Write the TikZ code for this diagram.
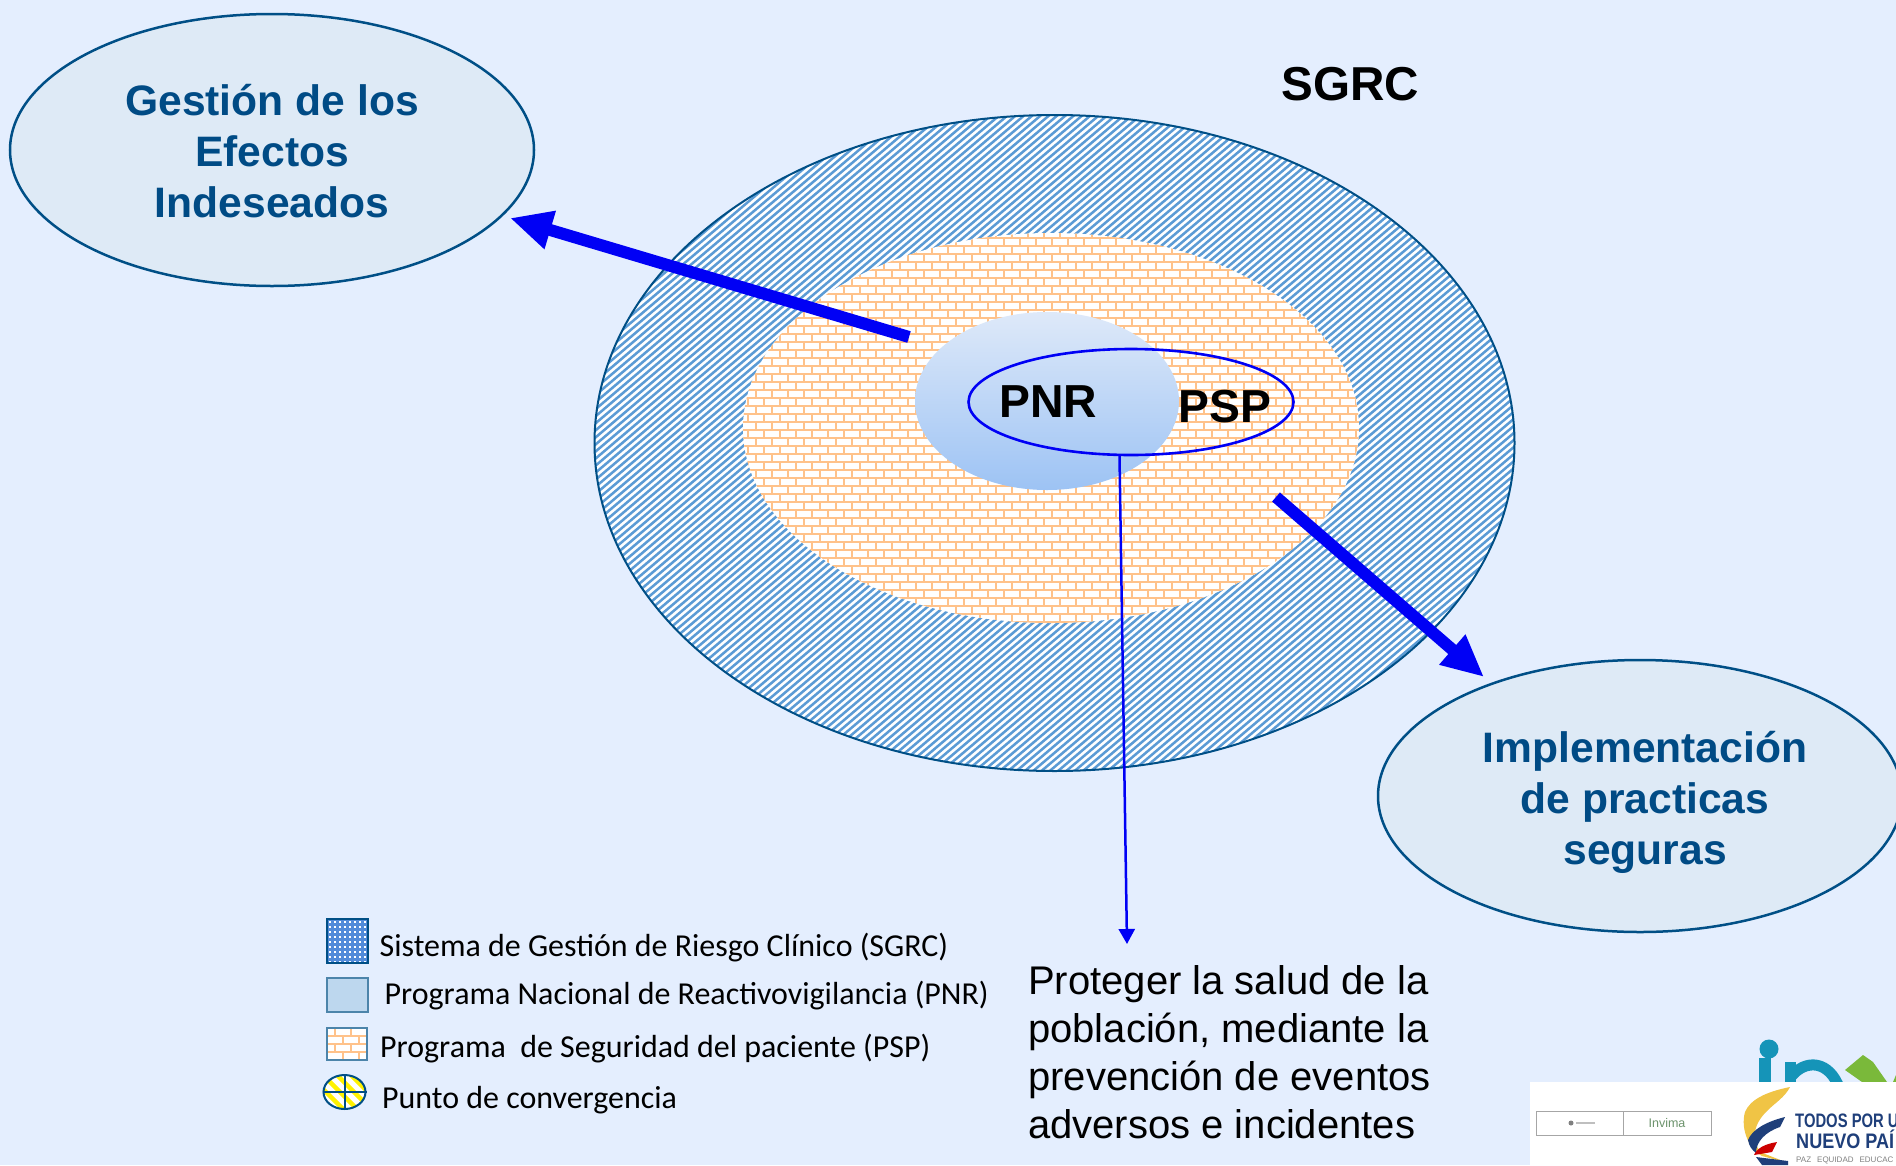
\documentclass[tikz,border=0pt]{standalone}
\usepackage{fontspec}
\usepackage{graphicx}
\setmainfont{Liberation Sans}
\newfontfamily\legendfont{Carlito}
\usetikzlibrary{arrows.meta,shapes.geometric}
\definecolor{bgblue}{HTML}{E4EEFE}
\definecolor{ovalfill}{HTML}{DEEAF6}
\definecolor{ovalline}{HTML}{004F86}
\definecolor{titleblue}{HTML}{004B85}
\definecolor{hatchblue}{HTML}{5B9BD5}
\definecolor{brickorange}{HTML}{FFC28A}
\definecolor{arrowblue}{HTML}{0000F5}
\definecolor{pnrtop}{HTML}{DEE9F9}
\definecolor{pnrbottom}{HTML}{9DC3F4}
\definecolor{logoteal}{HTML}{1594B8}
\definecolor{logogreen}{HTML}{7AB93A}
\definecolor{logogold}{HTML}{F0C445}
\definecolor{logonavy}{HTML}{1F3F7A}
\tikzset{
  oval/.style={draw=ovalline, line width=2.5pt, fill=ovalfill, ellipse, inner sep=0pt,
    minimum width=524pt, minimum height=272pt},
  ovaltext/.style={inner sep=0pt, align=center, text=titleblue,
    font=\fontsize{42.6}{51}\selectfont\bfseries},
  boldlabel/.style={inner sep=0pt, font=\fontsize{46.3}{52}\selectfont\bfseries},
  legendtext/.style={anchor=base west, inner sep=0pt, font=\legendfont\fontsize{31.95}{36}\selectfont},
  swatch/.style={draw=ovalline!70, line width=1.5pt},
  brickline/.style={draw=brickorange, line width=2.4pt},
  bigarrow/.style={draw=arrowblue, line width=12pt, -{Triangle[length=42pt,width=37pt,fill=arrowblue]}},
  thinarrow/.style={draw=arrowblue, line width=2.5pt, -{Triangle[length=15pt,width=16pt,fill=arrowblue]}}
}
% brick pattern: left, top, columns, rows
\newcommand{\brickwall}[4]{%
  \foreach \rownum in {0,...,#4}{
    \pgfmathsetmacro\rowy{#2+8*\rownum}
    \pgfmathsetmacro\rowshift{8*mod(\rownum,2)}
    \draw[brickline] (#1,\rowy) -- (#1+16*#3,\rowy);
    \foreach \colnum in {0,...,#3}{
      \draw[brickline] (#1+\rowshift+16*\colnum,\rowy) -- ++(0,8);
    }
  }
}
\begin{document}
\begin{tikzpicture}[x=1pt,y=-1pt]
  \useasboundingbox (0,0) rectangle (1896,1165);
  \fill[bgblue] (0,0) rectangle (1896,1165);

  % Outer hatched ellipse
  \begin{scope}
    \clip (1054.5,443) ellipse [x radius=460, y radius=328];
    \fill[white] (590,110) rectangle (1520,775);
    \foreach \x in {-200,-191.7,...,1520}{
      \draw[hatchblue, line width=2.5pt] (\x,775) -- (\x+780,112);
    }
  \end{scope}
  \node[draw=ovalline, line width=2pt, ellipse, inner sep=0pt, minimum width=920pt, minimum height=656pt] (sgrc) at (1054.5,443) {};

  % Brick ellipse
  \begin{scope}
    \clip (1051,428) ellipse [x radius=308, y radius=195];
    \fill[white] (740,230) rectangle (1362,626);
    \brickwall{740}{230}{39}{49}
  \end{scope}

  % Inner ellipses
  \node[ellipse, inner sep=0pt, minimum width=264pt, minimum height=178pt, top color=pnrtop, bottom color=pnrbottom] (pnr) at (1047,401) {};
  \node[draw=arrowblue, line width=2.6pt, ellipse, inner sep=0pt, minimum width=325pt, minimum height=106pt] (psp) at (1131,402) {};
  \node[boldlabel] (pnrtext) at (1048,402) {PNR};
  \node[boldlabel] (psptext) at (1225,407) {PSP};
  \node[boldlabel, font=\fontsize{47.6}{52}\selectfont\bfseries] (sgrctext) at (1350,84) {SGRC};

  % Outer ovals
  \node[oval] (efectos) at (272,150) {};
  \node[ovaltext] (efectostext) at (272,151) {Gestión de los\\Efectos\\Indeseados};
  \node[oval] (practicas) at (1640,796) {};
  \node[ovaltext] (practicastext) at (1645,802) {Implementación\\de practicas\\seguras};

  % Arrows
  \coordinate (efectostail) at (909,337);
  \coordinate (efectostip) at (510,218);
  \coordinate (practicastail) at (1276,497);
  \coordinate (practicastip) at (1484,677);
  \coordinate (puntotip) at (1127,944);
  \draw[bigarrow] (efectostail) -- (efectostip);
  \draw[bigarrow] (practicastail) -- (practicastip);
  \draw[thinarrow] (psp.258) -- (puntotip);

  \node[anchor=north west, inner sep=0pt, align=left, font=\fontsize{40}{48}\selectfont] (proteger) at (1028,965)
    {Proteger la salud de la\\población, mediante la\\prevención de eventos\\adversos e incidentes};

  % Legend
  \begin{scope}
    \clip (327,919) rectangle (368,963);
    \fill[hatchblue!90!blue] (327,919) rectangle (368,963);
    \foreach \x in {0,...,8}{
      \foreach \y in {0,...,8}{
        \fill[white] (329+5*\x,921+5*\y) rectangle ++(2,2);
      }
    }
  \end{scope}
  \draw[draw=ovalline, line width=2pt] (327,919) rectangle (368,963) node[pos=.5] (swatchsgrc) {};
  \draw[swatch, fill=hatchblue!40] (327,978) rectangle (368,1012) node[pos=.5] (swatchpnr) {};
  \begin{scope}
    \clip (327,1028) rectangle (367,1060);
    \fill[white] (327,1028) rectangle (367,1060);
    \brickwall{319}{1028}{4}{4}
  \end{scope}
  \draw[swatch] (327,1028) rectangle (367,1060) node[pos=.5] (swatchpsp) {};
  \begin{scope}
    \clip (344.5,1092) ellipse [x radius=21, y radius=17];
    \fill[white] (320,1072) rectangle (370,1112);
    \foreach \x in {-10,4,...,60}{
      \draw[yellow, line width=4.5pt] (300+\x,1070) -- (345+\x,1115);
    }
  \end{scope}
  \node[draw=ovalline, line width=2pt, ellipse, inner sep=0pt, minimum width=42pt, minimum height=34pt] (swatchpunto) at (344.5,1092) {};
  \draw[ovalline, line width=2pt] (swatchpunto.north) -- (swatchpunto.south);
  \draw[ovalline, line width=2pt] (swatchpunto.west) -- (swatchpunto.east);

  \node[legendtext] (legsgrc) at (379.5,956) {Sistema de Gestión de Riesgo Clínico (SGRC)};
  \node[legendtext] (legpnr) at (384.5,1004) {Programa Nacional de Reactivovigilancia (PNR)};
  \node[legendtext] (legpsp) at (380,1057) {Programa\ \ de Seguridad del paciente (PSP)};
  \node[legendtext] (legpunto) at (382,1108) {Punto de convergencia};

  % Logos
  \fill[logoteal] (1769,1049) circle (9.5);
  \fill[logoteal] (1759,1058) rectangle (1771,1090);
  \draw[logoteal, line width=11pt] (1790,1090) -- (1790,1062);
  \draw[logoteal, line width=11pt] (1790,1078) .. controls (1805,1058) and (1830,1060) .. (1840,1090);
  \fill[logogreen] (1845,1070) -- (1863,1055) -- (1873,1062) -- (1887,1082) -- (1862,1082) -- cycle;
  \fill[logogreen] (1893,1082) -- (1896,1075) -- (1896,1082) -- cycle;
  \fill[white] (1530,1082) rectangle (1896,1165);
  \draw[gray!70, line width=1pt] (1536,1111) rectangle (1711,1135);
  \draw[gray!70, line width=1pt] (1623,1111) -- (1623,1135);
  \fill[gray] (1571,1123) circle (2.5);
  \draw[gray!50, line width=2pt] (1576,1123) -- (1595,1123);
  \node[inner sep=0pt, text=gray!85!green, font=\fontsize{12.5}{13}\selectfont] (invimatext) at (1667,1123) {Invima};
  \fill[logogold] (1790,1087) .. controls (1765,1092) and (1750,1100) .. (1745,1112) .. controls (1740,1130) and (1750,1150) .. (1762,1156) -- (1788,1163) -- (1760,1152) .. controls (1752,1140) and (1752,1125) .. (1768,1110) .. controls (1775,1103) and (1785,1097) .. (1790,1087) -- cycle;
  \fill[logonavy] (1785,1117) .. controls (1765,1122) and (1752,1130) .. (1748,1140) .. controls (1749,1146) and (1752,1150) .. (1756,1153) .. controls (1756,1142) and (1765,1132) .. (1780,1127) -- cycle;
  \fill[red!80!black] (1777,1142) .. controls (1765,1144) and (1757,1148) .. (1754,1155) -- (1772,1152) -- cycle;
  \fill[logonavy] (1756,1157) -- (1788,1161) -- (1788,1165) -- (1762,1165) -- cycle;
  \node[anchor=base west, inner sep=0pt, text=logonavy, font=\fontsize{19.5}{20}\selectfont\bfseries] (lemaone) at (1795,1127) {\scalebox{.76}[1]{TODOS POR U}};
  \node[anchor=base west, inner sep=0pt, text=logonavy, font=\fontsize{21}{22}\selectfont\bfseries] (lematwo) at (1796,1148) {\scalebox{.86}[1]{NUEVO PAÍ}};
  \node[anchor=base west, inner sep=0pt, text=gray, font=\fontsize{8}{9}\selectfont] (lemathree) at (1796,1162) {PAZ\hspace{6pt}EQUIDAD\hspace{6pt}EDUCAC};
\end{tikzpicture}
\end{document}
